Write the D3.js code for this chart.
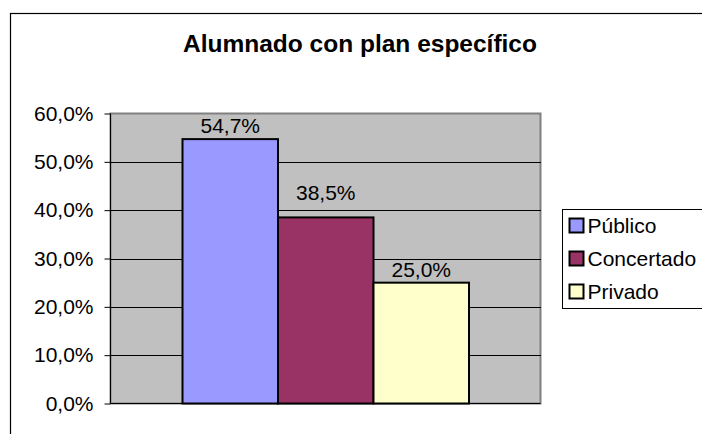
<!DOCTYPE html>
<meta charset="utf-8">
<style>
body { margin: 0; background: #fff; }
svg { display: block; }
text { font-family: "Liberation Sans", Arial, sans-serif; fill: #000; }
.axis text { font-size: 21px; }
.axis path { display: none; }
.axis line { stroke: #000; }
.grid line { stroke: #000; stroke-width: 1px; shape-rendering: crispEdges; }
</style>
<body>
<div id="chart"></div>
<script src="https://cdn.jsdelivr.net/npm/d3@7"></script>
<script>
var title = "Alumnado con plan específico";
var series = ["Público", "Concertado", "Privado"];
var values = [0.547, 0.385, 0.250];
var colors = ["#9999FF", "#993366", "#FFFFCC"];
var ticks = [0, 0.1, 0.2, 0.3, 0.4, 0.5, 0.6];

var W = 702, H = 434;
var plot = { left: 110.5, top: 113.5, right: 540.5, bottom: 403.5 };

var fmt = function(v) { return d3.format(".1%")(v).replace(".", ","); };

var svg = d3.select("#chart").append("svg")
    .attr("width", W)
    .attr("height", H);

// chart area border
svg.append("rect")
    .attr("x", 10.5).attr("y", 13.5)
    .attr("width", 720).attr("height", 440)
    .attr("fill", "#fff")
    .attr("stroke", "#000")
    .attr("stroke-width", 1.2);

svg.append("text")
    .attr("x", 360)
    .attr("y", 52)
    .attr("text-anchor", "middle")
    .style("font-size", "24.5px")
    .style("font-weight", "bold")
    .text(title);

var y = d3.scaleLinear().domain([0, 0.6]).range([plot.bottom, plot.top]);
var x = d3.scaleBand().domain(series)
    .range([plot.left + 72, plot.right - 71.5]);

// plot area
svg.append("rect")
    .attr("x", plot.left).attr("y", plot.top)
    .attr("width", plot.right - plot.left)
    .attr("height", plot.bottom - plot.top)
    .attr("fill", "#C0C0C0")
    .attr("stroke", "#808080")
    .attr("stroke-width", 2);

svg.append("g")
    .attr("class", "grid")
    .selectAll("line")
    .data(ticks.slice(1, -1))
    .enter().append("line")
    .attr("x1", plot.left).attr("x2", plot.right)
    .attr("y1", function(d) { return Math.round(y(d)) + 0.5; })
    .attr("y2", function(d) { return Math.round(y(d)) + 0.5; });

svg.selectAll(".bar")
    .data(values)
    .enter().append("rect")
    .attr("class", "bar")
    .attr("x", function(d, i) { return x(series[i]); })
    .attr("y", function(d) { return y(d); })
    .attr("width", x.bandwidth())
    .attr("height", function(d) { return plot.bottom - y(d); })
    .attr("fill", function(d, i) { return colors[i]; })
    .attr("stroke", "#000")
    .attr("stroke-width", 2);

// label sits 6px above the bar, lifted over a gridline if it would cross one
function labelY(d) {
    var base = y(d) - 6;
    ticks.forEach(function(t) {
        var gy = y(t);
        if (gy < base && gy > base - 16) base = gy - 10;
    });
    return base;
}

svg.selectAll(".label")
    .data(values)
    .enter().append("text")
    .attr("class", "label")
    .attr("x", function(d, i) { return x(series[i]) + x.bandwidth() / 2; })
    .attr("y", labelY)
    .attr("text-anchor", "middle")
    .style("font-size", "21px")
    .text(fmt);

// axes
svg.append("g")
    .attr("class", "axis")
    .attr("transform", "translate(" + plot.left + ",0)")
    .call(d3.axisLeft(y).tickValues(ticks).tickSize(6).tickPadding(11).tickFormat(fmt));

svg.append("line")
    .attr("x1", plot.left).attr("x2", plot.left)
    .attr("y1", plot.top).attr("y2", plot.bottom)
    .attr("stroke", "#000");
svg.append("line")
    .attr("x1", plot.left).attr("x2", plot.right)
    .attr("y1", plot.bottom).attr("y2", plot.bottom)
    .attr("stroke", "#000");

// legend
var legend = svg.append("g").attr("transform", "translate(562.5,209.5)");
legend.append("rect")
    .attr("width", 160).attr("height", 99)
    .attr("fill", "#fff")
    .attr("stroke", "#000");

var item = legend.selectAll(".item")
    .data(series)
    .enter().append("g")
    .attr("class", "item")
    .attr("transform", function(d, i) { return "translate(0," + (16 + i * 33) + ")"; });

item.append("rect")
    .attr("x", 7).attr("y", -7)
    .attr("width", 14).attr("height", 14)
    .attr("fill", function(d, i) { return colors[i]; })
    .attr("stroke", "#000")
    .attr("stroke-width", 2);

item.append("text")
    .attr("x", 25)
    .attr("dy", "0.35em")
    .style("font-size", "21px")
    .text(function(d) { return d; });
</script>
</body>
